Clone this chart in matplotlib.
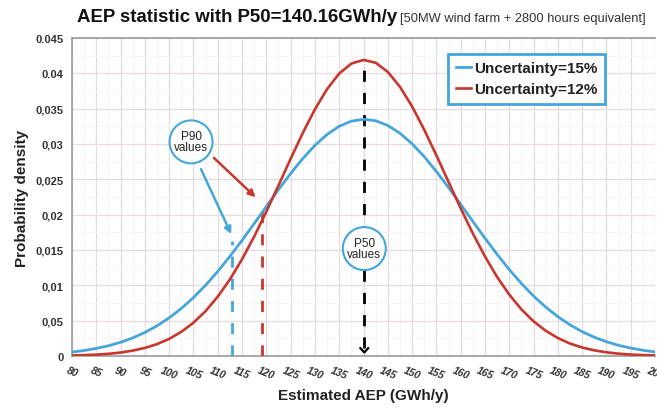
"""AEP probability density for two uncertainty levels (P50 / P90 markers)."""

import matplotlib

matplotlib.use("Agg")
import matplotlib.pyplot as plt
from matplotlib.ticker import FixedLocator, MultipleLocator

# values
aep = [80, 82.5, 85, 87.5, 90, 92.5, 95, 97.5, 100, 102.5, 105, 107.5, 110,
       112.5, 115, 117.5, 120, 122.5, 125, 127.5, 130, 132.5, 135, 137.5, 140,
       142.5, 145, 147.5, 150, 152.5, 155, 157.5, 160, 162.5, 165, 167.5, 170,
       172.5, 175, 177.5, 180, 182.5, 185, 187.5, 190, 192.5, 195, 197.5, 200]
density_15 = [0.00056, 0.00078, 0.00107, 0.00145, 0.00194, 0.00256, 0.00333,
              0.00427, 0.00540, 0.00673, 0.00827, 0.01002, 0.01197, 0.01410,
              0.01637, 0.01874, 0.02115, 0.02354, 0.02583, 0.02794, 0.02981,
              0.03135, 0.03251, 0.03323, 0.03350, 0.03329, 0.03262, 0.03152,
              0.03003, 0.02820, 0.02611, 0.02384, 0.02146, 0.01905, 0.01667,
              0.01438, 0.01223, 0.01026, 0.00848, 0.00692, 0.00556, 0.00441,
              0.00344, 0.00265, 0.00202, 0.00151, 0.00112, 0.00081, 0.00058]
density_12 = [0.00007, 0.00012, 0.00019, 0.00031, 0.00049, 0.00076, 0.00114,
              0.00168, 0.00242, 0.00342, 0.00471, 0.00636, 0.00840, 0.01084,
              0.01369, 0.01691, 0.02043, 0.02414, 0.02791, 0.03156, 0.03491,
              0.03777, 0.03998, 0.04138, 0.04190, 0.04150, 0.04020, 0.03809,
              0.03531, 0.03201, 0.02839, 0.02463, 0.02090, 0.01734, 0.01408,
              0.01118, 0.00869, 0.00660, 0.00490, 0.00357, 0.00254, 0.00176,
              0.00120, 0.00080, 0.00052, 0.00033, 0.00021, 0.00013, 0.00008]
series_labels = ["Uncertainty=15%", "Uncertainty=12%"]

p50 = 140.16
p50_top = 0.0419
p90_15, p90_15_top = 113.0, 0.0163
p90_12, p90_12_top = 119.2, 0.0208

x_ticks = list(range(80, 205, 5))
y_ticks = [0, 0.005, 0.01, 0.015, 0.02, 0.025, 0.03, 0.035, 0.04, 0.045]
y_tick_labels = ["0", "0,05", "0,01", "0,015", "0,02", "0,025", "0,03",
                 "0,035", "0.04", "0.045"]

BLUE = "#45a6dc"
RED = "#c8372d"
FONT = ["Liberation Sans", "DejaVu Sans"]

plt.rcParams["font.family"] = FONT

fig = plt.figure(figsize=(6.57, 4.14), dpi=100)
ax = fig.add_axes([0.1096, 0.1377, 0.8874, 0.7681])

ax.plot(aep, density_15, color=BLUE, lw=2.0, label=series_labels[0], zorder=4)
ax.plot(aep, density_12, color=RED, lw=1.9, label=series_labels[1], zorder=4)

# P90 / P50 markers
ax.plot([p90_15, p90_15], [0, p90_15_top], color=BLUE, lw=2.0,
        ls=(0, (4, 4)), zorder=3)
ax.plot([p90_12, p90_12], [0, p90_12_top], color=RED, lw=2.0,
        ls=(0, (4, 4)), zorder=3)
ax.plot([p50, p50], [0.0011, p50_top], color="black", lw=2.0,
        ls=(0, (4, 4)), zorder=3)
ax.plot([p50 - 0.8, p50, p50 + 0.8], [0.0011, 0.0005, 0.0011],
        color="black", lw=1.6, zorder=3)

circle = dict(boxstyle="circle,pad=0.38", fc="white", ec=BLUE, lw=1.5)
ax.text(104.5, 0.0303, "P90\nvalues", ha="center", va="center", fontsize=8.5,
        linespacing=0.9, bbox=circle, zorder=6, color="#222222")
ax.text(p50, 0.0152, "P50\nvalues", ha="center", va="center", fontsize=8.5,
        linespacing=0.9, bbox=circle, zorder=6, color="#222222")
ax.annotate("", xy=(113.0, 0.0169), xytext=(106.3, 0.0268),
            arrowprops=dict(arrowstyle="-|>", color=BLUE, lw=1.8,
                            mutation_scale=10), zorder=5)
ax.annotate("", xy=(118.2, 0.0222), xytext=(108.8, 0.0283),
            arrowprops=dict(arrowstyle="-|>", color=RED, lw=1.8,
                            mutation_scale=10), zorder=5)

ax.set_xlim(80, 200)
ax.set_ylim(0, 0.045)
ax.xaxis.set_major_locator(FixedLocator(x_ticks))
ax.set_xticklabels([str(t) for t in x_ticks], rotation=-22, fontsize=7.5,
                   fontweight="bold", style="italic", color="#333333")
ax.set_yticks(y_ticks)
ax.set_yticklabels(y_tick_labels, fontsize=8, fontweight="bold",
                   color="#333333")
ax.xaxis.set_minor_locator(MultipleLocator(2.5))
ax.yaxis.set_minor_locator(MultipleLocator(0.0025))
ax.tick_params(length=0, which="both", pad=6)
ax.grid(which="major", color="#e6dcdc", lw=0.9)
ax.grid(which="minor", color="#f6f2f2", lw=0.6)
ax.set_axisbelow(True)
for side in ["left", "bottom", "top"]:
    ax.spines[side].set_color("#9a9a9a")
    ax.spines[side].set_linewidth(1.2)
ax.spines["right"].set_visible(False)

ax.set_xlabel("Estimated AEP (GWh/y)", fontsize=11, fontweight="bold",
              color="#222222", labelpad=6)
ax.set_ylabel("Probability density", fontsize=11, fontweight="bold",
              color="#222222", labelpad=5)

leg = ax.legend(loc="upper right", bbox_to_anchor=(0.928, 0.975),
                prop={"weight": "bold", "size": 11, "family": FONT},
                handlelength=1.0, handletextpad=0.2, borderpad=0.5,
                fancybox=False, framealpha=1, labelspacing=0.45)
leg.get_frame().set_edgecolor(BLUE)
leg.get_frame().set_linewidth(2.0)
for txt in leg.get_texts():
    txt.set_color("#222222")

fig.text(0.117, 0.958, "AEP statistic with P50=140.16GWh/y", fontsize=13.4,
         fontweight="bold", color="#111111", va="center")
fig.text(0.609, 0.955, "[50MW wind farm + 2800 hours equivalent]",
         fontsize=9.3, color="#333333", va="center")

fig.savefig("out.png", dpi=100)
